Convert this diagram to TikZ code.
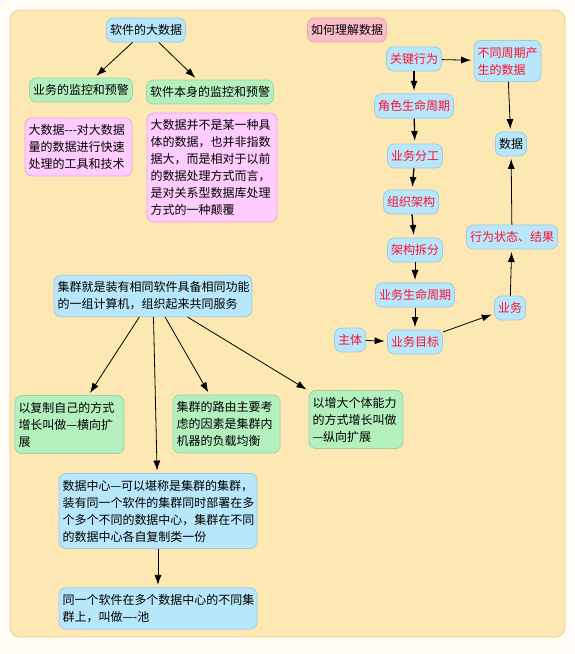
\documentclass[tikz,border=0pt]{standalone}
\usepackage{fontspec}
\setmainfont{Noto Sans CJK SC}
\usetikzlibrary{arrows.meta}
\definecolor{pagebg}{HTML}{FFFDF6}
\definecolor{panelbg}{HTML}{FDE8B4}
\definecolor{paneledge}{HTML}{E6CC92}
\definecolor{boxblue}{HTML}{B8E6FA}
\definecolor{edgeblue}{HTML}{9CCDE2}
\definecolor{boxgreen}{HTML}{B4F0BE}
\definecolor{edgegreen}{HTML}{9AD6A6}
\definecolor{boxpink}{HTML}{FFCCFF}
\definecolor{edgepink}{HTML}{E4A8DC}
\definecolor{boxrose}{HTML}{FABEC8}
\definecolor{edgerose}{HTML}{E6A2B0}
\definecolor{txtred}{HTML}{FF1030}
\tikzstyle{bx}=[rounded corners=7pt, inner xsep=3.5pt, inner ysep=6.5pt, line width=0.8pt, font=\fontsize{12}{17}\selectfont]
\tikzstyle{bluebx}=[bx, fill=boxblue, draw=edgeblue]
\tikzstyle{greenbx}=[bx, fill=boxgreen, draw=edgegreen]
\tikzstyle{pinkbx}=[bx, fill=boxpink, draw=edgepink]
\tikzstyle{rosebx}=[bx, fill=boxrose, draw=edgerose]
\tikzstyle{redtx}=[text=txtred]
\tikzstyle{arr}=[line width=0.8pt, -{Latex[length=10pt,width=7pt]}, shorten >=2.5pt]
\tikzstyle{thickarr}=[arr, line width=1.3pt]

\begin{document}
\begin{tikzpicture}[x=1pt,y=-1pt]
\fill[pagebg] (0,0) rectangle (574,654);
\useasboundingbox (0,0) rectangle (574,654);
\draw[paneledge, fill=panelbg, rounded corners=10pt, line width=0.8pt] (10,10) rectangle (565,637);

\node at (146,30) [bluebx](soft){软件的大数据};
\node at (81,90) [greenbx](biz){业务的监控和预警};
\node at (210,92) [greenbx](self){软件本身的监控和预警};
\node at (78.5,147) [pinkbx, align=left, text width=100pt](defa){大数据-{}-{}-对大数据\\量的数据进行快速\\处理的工具和技术};
\node at (212,167.5) [pinkbx, align=left, text width=123pt](defb){大数据并不是某一种具\\体的数据，也并非指数\\据大，而是相对于以前\\的数据处理方式而言，\\是对关系型数据库处理\\方式的一种颠覆};

\node at (347,30) [rosebx](how){如何理解数据};
\node at (414,59) [bluebx, redtx](key){关键行为};
\node at (507.5,61) [bluebx, redtx, align=left, text width=60pt](cyc){不同周期产\\生的数据};
\node at (414,106) [bluebx, redtx](role){角色生命周期};
\node at (511,144) [bluebx](data){数据};
\node at (415,156) [bluebx, redtx](div){业务分工};
\node at (411,202) [bluebx, redtx](org){组织架构};
\node at (512,237) [bluebx, redtx](state){行为状态、结果};
\node at (415,250) [bluebx, redtx](split){架构拆分};
\node at (415,295) [bluebx, redtx](life){业务生命周期};
\node at (510,308) [bluebx, redtx](work){业务};
\node at (350,340) [bluebx, redtx](subj){主体};
\node at (415,342) [bluebx, redtx](goal){业务目标};

\node at (153,296) [bluebx, align=left, text width=191pt](clu){集群就是装有相同软件具备相同功能\\的一组计算机，组织起来共同服务};
\node at (69.5,424.5) [greenbx, align=left, text width=102pt](hor){以复制自己的方式\\增长叫做—横向扩\\展};
\node at (226.5,424) [greenbx, align=left, text width=100pt](route){集群的路由主要考\\虑的因素是集群内\\机器的负载均衡};
\node at (356,419.5) [greenbx, align=left, text width=87pt](ver){以增大个体能力\\的方式增长叫做\\—纵向扩展};
\node at (158,511) [bluebx, align=left, text width=191pt](dc){数据中心—可以堪称是集群的集群，\\装有同一个软件的集群同时部署在多\\个多个不同的数据中心，集群在不同\\的数据中心各自复制类一份};
\node at (158,608.5) [bluebx, align=left, text width=191pt](pool){同一个软件在多个数据中心的不同集\\群上，叫做—-池};

\draw[arr] (soft)--(biz);
\draw[arr] (soft)--(self);
\draw[arr] (key)--(cyc);
\draw[thickarr] (key)--(role);
\draw[thickarr] (role)--(div);
\draw[thickarr] (div)--(org);
\draw[thickarr] (org)--(split);
\draw[arr] (split)--(life);
\draw[arr] (life)--(goal);
\draw[arr] (subj)--(goal);
\draw[arr] (goal)--(work);
\draw[arr] (work)--(state);
\draw[arr] (state)--(data);
\draw[arr] (cyc)--(data);
\draw[arr] (clu)--(hor);
\draw[arr] (clu)--(dc);
\draw[arr] (clu)--(route);
\draw[arr] (clu)--(ver);
\draw[arr] (dc)--(pool);
\end{tikzpicture}
\end{document}
